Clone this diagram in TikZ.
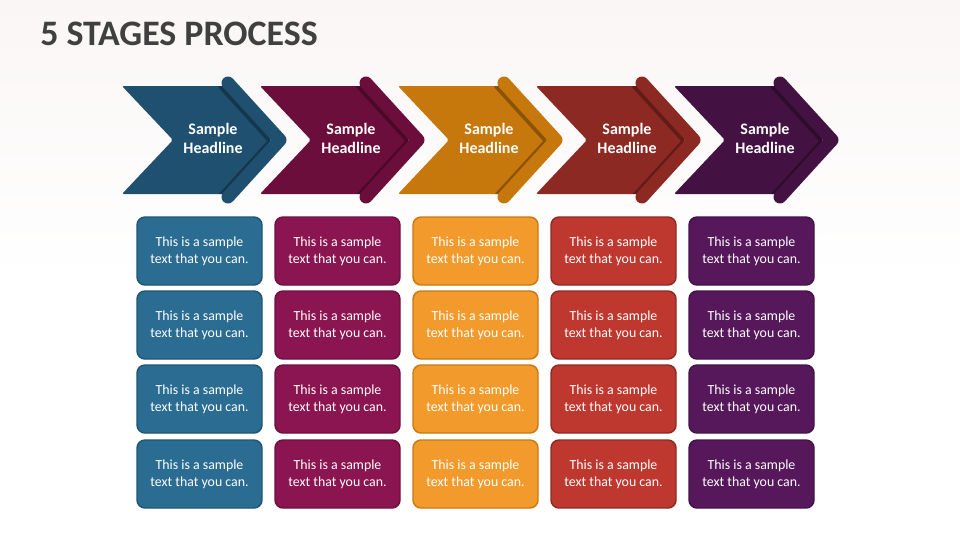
\documentclass[tikz,border=0pt]{standalone}
\usepackage{fontspec}
\setmainfont{Carlito}
\usetikzlibrary{calc}
\definecolor{a1}{HTML}{1F5070}\definecolor{c1}{HTML}{2B6C92}\definecolor{b1}{HTML}{1F5575}
\definecolor{a2}{HTML}{6C0E3C}\definecolor{c2}{HTML}{8B1550}\definecolor{b2}{HTML}{6E1040}
\definecolor{a3}{HTML}{C6780C}\definecolor{c3}{HTML}{F29B2C}\definecolor{b3}{HTML}{C97A10}
\definecolor{a4}{HTML}{8B2922}\definecolor{c4}{HTML}{BE3830}\definecolor{b4}{HTML}{8F2A24}
\definecolor{a5}{HTML}{431242}\definecolor{c5}{HTML}{56185A}\definecolor{b5}{HTML}{43124A}
\definecolor{titlecol}{HTML}{404040}
\definecolor{bgtop}{HTML}{FAF6F5}
\begin{document}
\begin{tikzpicture}[x=0.75pt,y=-0.75pt,
  card/.style={rounded corners=6pt, line width=1.1pt, minimum width=93.75pt, minimum height=51pt,
    align=center, text=white, font=\fontsize{10.4}{12.9}\selectfont, inner sep=0pt},
  headline/.style={align=center, text=white, font=\bfseries\fontsize{12}{14.3}\selectfont},
  band/.style={line width=9.75pt, line cap=round, line join=round},
  bandshadow/.style={line width=11pt, line cap=round, line join=round, black, opacity=0.3}]
\useasboundingbox (0,0) rectangle (960,540);
\fill[top color=bgtop, bottom color=white] (0,0) rectangle (960,280);
\fill[white] (0,280) rectangle (960,540);
\node[anchor=base west, text=titlecol, font=\bfseries\fontsize{26.9}{31}\selectfont, inner sep=0pt] (title) at (40,45) {5 STAGES PROCESS};
\foreach \i/\ac/\cc/\bc in {1/a1/c1/b1,2/a2/c2/b2,3/a3/c3/b3,4/a4/c4/b4,5/a5/c5/b5}{
  \pgfmathsetmacro{\xo}{122+138*(\i-1)}
  \fill[\ac, rounded corners=1.5pt] (\xo,86) -- (\xo+103,86) -- (\xo+150,140) -- (\xo+103,194) -- (\xo,194) -- (\xo+51,140) -- cycle;
  \begin{scope}
    \clip (\xo,86) -- (\xo+103,86) -- (\xo+150,140) -- (\xo+103,194) -- (\xo,194) -- (\xo+51,140) -- cycle;
    \draw[bandshadow] (\xo+103,84) -- (\xo+155,141) -- (\xo+103,198);
  \end{scope}
  \draw[band, \ac] (\xo+106,83) -- (\xo+158,140) -- (\xo+106,197);
  \node[headline] (h\i) at (\xo+91,138) {Sample\\Headline};
  \pgfmathsetmacro{\xc}{199.5+138*(\i-1)}
  \foreach \j/\yc in {1/251,2/325,3/399,4/474}{
    \node[card, fill=\cc, draw=\bc] (c\i-\j) at (\xc,\yc) {This is a sample\\text that you can.};
  }
}
\end{tikzpicture}
\end{document}
